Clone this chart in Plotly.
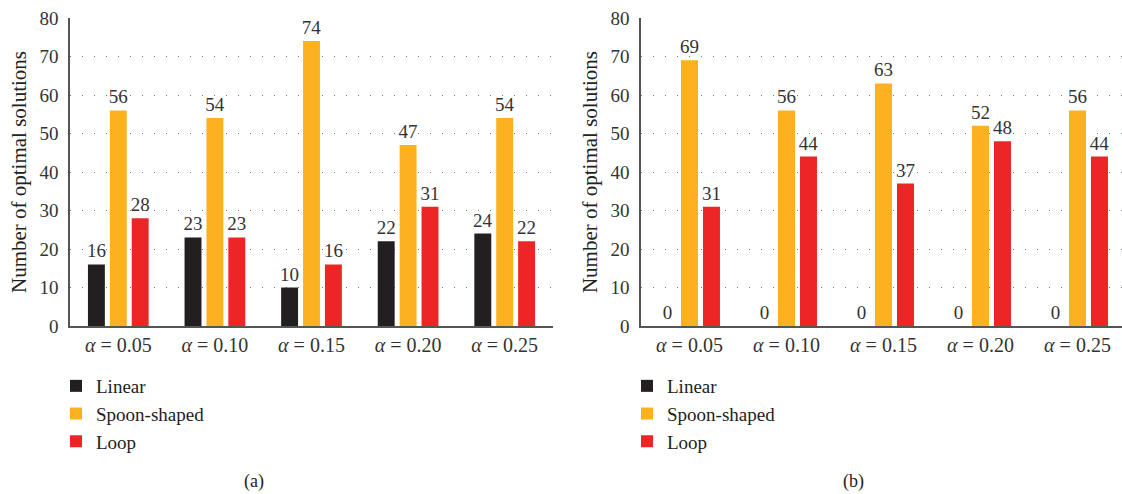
import plotly.graph_objects as go

# Data
categories = ["α = 0.05", "α = 0.10", "α = 0.15", "α = 0.20", "α = 0.25"]
tick_labels = ["<i>α</i> = 0.05", "<i>α</i> = 0.10", "<i>α</i> = 0.15", "<i>α</i> = 0.20", "<i>α</i> = 0.25"]
series_names = ["Linear", "Spoon-shaped", "Loop"]

linear_a = [16, 23, 10, 22, 24]
spoon_a = [56, 54, 74, 47, 54]
loop_a = [28, 23, 16, 31, 22]

linear_b = [0, 0, 0, 0, 0]
spoon_b = [69, 56, 63, 52, 56]
loop_b = [31, 44, 37, 48, 44]

y_ticks = [0, 10, 20, 30, 40, 50, 60, 70, 80]

colors = ["#231F20", "#FBB21E", "#EE2527"]
FONT = "Liberation Serif"
W, H = 1122, 494

fig = go.Figure()

panels = [
    ("x", "y", "legend", [linear_a, spoon_a, loop_a]),
    ("x2", "y2", "legend2", [linear_b, spoon_b, loop_b]),
]
for xa, ya, leg, values in panels:
    for name, vals, col in zip(series_names, values, colors):
        fig.add_trace(go.Bar(
            x=list(range(len(categories))), y=vals, name=name,
            xaxis=xa, yaxis=ya, legend=leg, legendgroup=name + xa,
            marker=dict(color=col, line=dict(width=0)),
            text=[str(v) for v in vals], textposition="outside",
            constraintext="none", cliponaxis=False,
            textfont=dict(family=FONT, size=19, color="#333333"),
            hovertext=categories,
        ))

axis_common = dict(
    showline=True, linecolor="#555555", linewidth=1.5,
    ticks="", zeroline=False, automargin=False,
    tickfont=dict(family=FONT, size=19, color="#333333"),
)
xdom_a = [70 / W, 553 / W]
xdom_b = [641 / W, 1.0]
ydom = [(H - 326) / H, (H - 18) / H]

xaxis_common = dict(axis_common, tickvals=list(range(len(categories))),
                    ticktext=tick_labels, showgrid=False,
                    tickfont=dict(family=FONT, size=20, color="#333333"))
yaxis_common = dict(axis_common, range=[0, 80], tickvals=y_ticks, showgrid=True,
                    gridcolor="#777777", gridwidth=1, griddash="1px,11px",
                    ticklabelstandoff=6,
                    title=dict(text="Number of optimal solutions",
                               font=dict(family=FONT, size=21, color="#222222"),
                               standoff=7))

legend_common = dict(
    xanchor="left", yanchor="top", orientation="v", tracegroupgap=0,
    font=dict(family=FONT, size=19, color="#222222"),
    bgcolor="rgba(0,0,0,0)",
)

fig.update_layout(
    width=W, height=H,
    margin=dict(l=0, r=0, t=0, b=0, autoexpand=False),
    plot_bgcolor="white", paper_bgcolor="white",
    barmode="group", bargap=0.32, bargroupgap=0.227,
    xaxis=dict(xaxis_common, domain=xdom_a, range=[-0.5, 4.5], anchor="y"),
    yaxis=dict(yaxis_common, domain=ydom, anchor="x"),
    xaxis2=dict(xaxis_common, domain=xdom_b, range=[-0.5, 4.5 - 4 / 97], anchor="y2"),
    yaxis2=dict(yaxis_common, domain=ydom, anchor="x2"),
    legend=dict(legend_common, x=56 / W, y=(H - 367) / H),
    legend2=dict(legend_common, x=627 / W, y=(H - 367) / H),
    annotations=[
        dict(text="(a)", x=254 / W, y=(H - 481) / H, xref="paper", yref="paper",
             xanchor="center", yanchor="middle",
             showarrow=False, font=dict(family=FONT, size=18, color="#222222")),
        dict(text="(b)", x=853 / W, y=(H - 481) / H, xref="paper", yref="paper",
             xanchor="center", yanchor="middle",
             showarrow=False, font=dict(family=FONT, size=18, color="#222222")),
    ],
    showlegend=True,
)

fig.write_html("out.html")
